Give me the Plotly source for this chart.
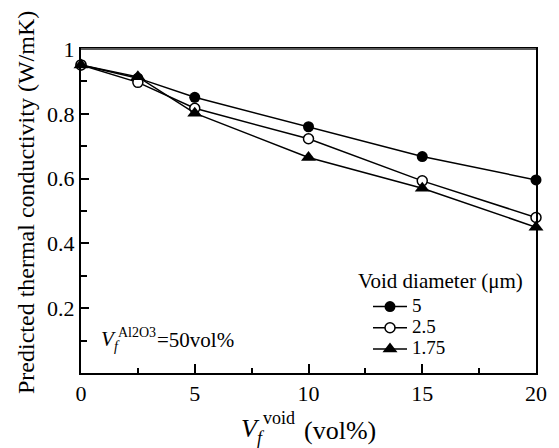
import plotly.graph_objects as go

x_vals = [0, 2.5, 5, 10, 15, 20]
d5 = [0.951, 0.910, 0.851, 0.760, 0.668, 0.596]
d25 = [0.951, 0.897, 0.817, 0.723, 0.593, 0.480]
d175 = [0.951, 0.914, 0.802, 0.665, 0.570, 0.450]
series_names = ["5", "2.5", "1.75"]

y_ticks = [0.2, 0.4, 0.6, 0.8, 1.0]
y_ticktext = ["0.2", "0.4", "0.6", "0.8", "1"]
y_minor = [0.1, 0.3, 0.5, 0.7, 0.9]
x_ticks = [0, 5, 10, 15, 20]
x_minor = [2.5, 7.5, 12.5, 17.5]

FONT = "Liberation Serif"
L, R, T, B = 81, 23, 49, 75
W, H = 559, 448
PW, PH = W - L - R, H - T - B

def px(xp):
    return (xp - L) / PW

def py(yp):
    return (H - B - yp) / PH

def big(name):
    return "<span style='font-size:19px'>" + name + "</span>"

fig = go.Figure()
fig.add_trace(go.Scatter(x=x_vals, y=d5, name=big(series_names[0]), mode="lines+markers",
                         line=dict(color="black", width=1.5),
                         marker=dict(symbol="circle", size=11, color="black"),
                         cliponaxis=False))
fig.add_trace(go.Scatter(x=x_vals, y=d25, name=big(series_names[1]), mode="lines+markers",
                         line=dict(color="black", width=1.5),
                         marker=dict(symbol="circle", size=10, color="white",
                                     line=dict(color="black", width=1.5)),
                         cliponaxis=False))
fig.add_trace(go.Scatter(x=x_vals, y=d175, name=big(series_names[2]), mode="lines+markers",
                         line=dict(color="black", width=1.5),
                         marker=dict(symbol="triangle-up", size=13, color="black"),
                         cliponaxis=False))

fig.update_xaxes(range=[0, 20], tickmode="array", tickvals=x_ticks,
                 ticks="inside", ticklen=9, tickwidth=1.5, tickcolor="black",
                 showline=True, linecolor="black", linewidth=2, mirror=True,
                 showgrid=False, zeroline=False,
                 tickfont=dict(family=FONT, size=22, color="black"),
                 minor=dict(tickmode="array", tickvals=x_minor, ticks="inside",
                            ticklen=5, tickwidth=1.5, tickcolor="black"))
fig.update_yaxes(range=[0, 1], tickmode="array", tickvals=y_ticks, ticktext=y_ticktext,
                 ticks="inside", ticklen=8, tickwidth=1.5, tickcolor="black",
                 showline=True, linecolor="black", linewidth=2, mirror=True,
                 showgrid=False, zeroline=False,
                 tickfont=dict(family=FONT, size=22, color="black"),
                 minor=dict(tickmode="array", tickvals=y_minor, ticks="inside",
                            ticklen=6, tickwidth=1.5, tickcolor="black"))

ann = []
def add_text(text, xp, yp, size, xanchor="center", yanchor="middle", angle=0):
    ann.append(dict(text=text, x=px(xp), y=py(yp), xref="paper", yref="paper",
                    showarrow=False, xanchor=xanchor, yanchor=yanchor, textangle=angle,
                    font=dict(family=FONT, size=size, color="black")))

# y-axis title
add_text("Predicted thermal conductivity (W/mK)", 26, 203, 24, angle=-90)
# x-axis title pieces
add_text("<i>V</i>", 250, 429, 26)
add_text("<i>f</i>", 261, 438, 18)
add_text("void", 279, 418, 18)
add_text("(vol%)", 340, 431, 26)
# in-plot annotation
add_text("<i>V</i>", 108, 339, 21)
add_text("<i>f</i>", 117, 346, 14)
add_text("Al2O3", 137, 332, 14)
add_text("=50vol%", 155, 340, 21, xanchor="left")
# legend title
add_text("Void diameter (μm)", 356, 281, 21, xanchor="left")

fig.update_layout(
    width=W, height=H, margin=dict(l=L, r=R, t=T, b=B),
    paper_bgcolor="white", plot_bgcolor="white",
    font=dict(family=FONT, size=20, color="black"),
    annotations=ann,
    shapes=[dict(type="line", xref="paper", yref="paper", x0=0, x1=1, y0=1, y1=1,
                 line=dict(color="#5a5a5a", width=2), layer="above")],
    legend=dict(x=px(368), y=py(291), xanchor="left", yanchor="top",
                bgcolor="rgba(0,0,0,0)", borderwidth=0,
                font=dict(family=FONT, size=14, color="black"),
                tracegroupgap=0, itemwidth=34),
    showlegend=True,
)

fig.write_html("out.html")
